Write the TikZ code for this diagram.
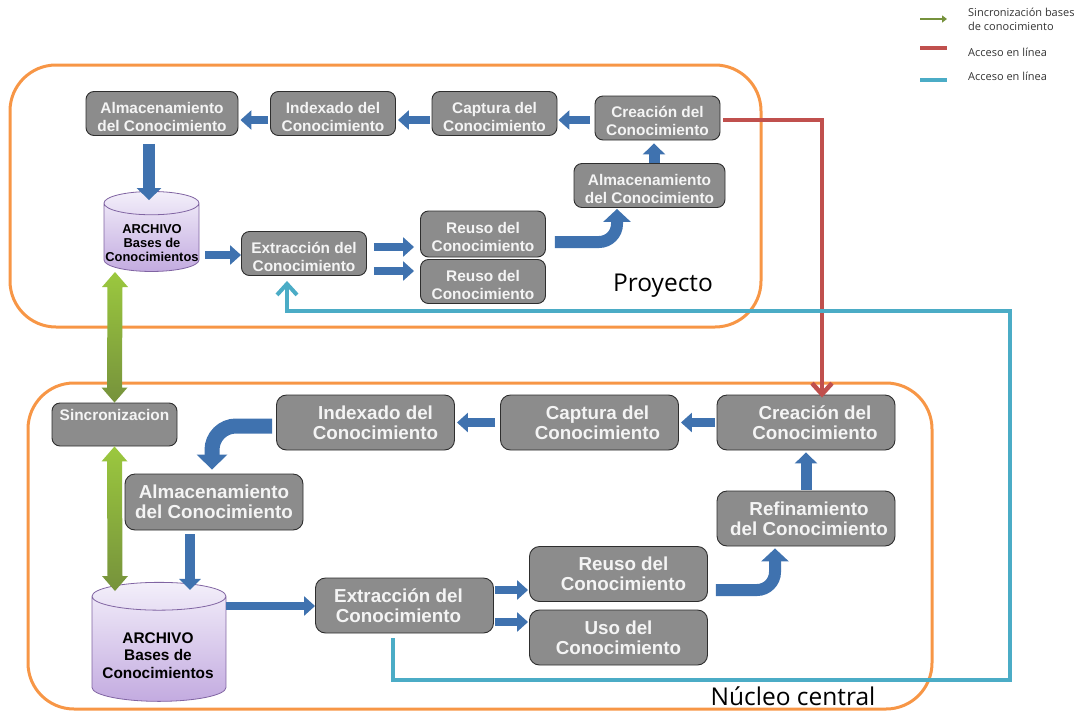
\documentclass[tikz,border=0pt]{standalone}
\usepackage{fontspec}
\setmainfont{Liberation Sans}
\newfontfamily\labelfont{Open Sans}
\usetikzlibrary{arrows.meta}
\usetikzlibrary{calc}
\usetikzlibrary{shapes.geometric}
\definecolor{boxgray}{HTML}{8C8C8C}
\definecolor{boxline}{HTML}{2E2E2E}
\definecolor{boxtext}{HTML}{F4F4F4}
\definecolor{panelorange}{HTML}{F79646}
\definecolor{flowblue}{HTML}{3F72AF}
\definecolor{linkred}{HTML}{C0504D}
\definecolor{linkcyan}{HTML}{4BACC6}
\definecolor{greenlight}{HTML}{9BC83E}
\definecolor{greendark}{HTML}{76923C}
\definecolor{dbtop}{HTML}{F3EFFA}
\definecolor{dbbottom}{HTML}{C3ABE0}
\definecolor{dbline}{HTML}{8064A2}
\tikzset{
    panel/.style={draw=panelorange,line width=3pt,rounded corners=46pt},
    smallbox/.style={draw=boxline,line width=.9pt,fill=boxgray,text=boxtext,rounded corners=8pt,
        align=center,inner sep=0pt,font=\fontsize{15.4}{18}\selectfont\bfseries,
        minimum width=125pt,minimum height=44pt},
    bigbox/.style={smallbox,rounded corners=10pt,font=\fontsize{18.8}{20}\selectfont\bfseries,
        minimum width=178pt,minimum height=55pt},
    database/.style={cylinder,shape border rotate=90,draw=dbline,line width=.8pt,
        top color=dbtop,bottom color=dbbottom,align=center,inner sep=0pt,aspect=.25},
    dblabel/.style={align=center,inner sep=0pt,text=black},
    flow/.style={draw=flowblue,line width=8.5pt,rounded corners=14pt,
        -{Triangle[length=11pt,width=19pt]}},
    bigflow/.style={flow,line width=12pt,rounded corners=18pt,-{Triangle[length=13pt,width=27pt]}},
    redlink/.style={draw=linkred,line width=4.5pt,-{Straight Barb[length=11pt,width=20pt]}},
    cyanlink/.style={draw=linkcyan,line width=4pt,-{Straight Barb[length=11pt,width=20pt]}},
    legendtext/.style={anchor=west,inner sep=0pt,font=\labelfont\fontsize{11}{14}\selectfont,
        align=left,text=black!80},
    paneltext/.style={inner sep=0pt,font=\labelfont\fontsize{24.5}{28}\selectfont},
}
\newcommand{\greenarrow}[2]{%
    \shade[top color=greenlight,bottom color=greendark]
        (#1) -- ([xshift=13pt,yshift=-15pt]#1) -- ([xshift=7.5pt,yshift=-15pt]#1)
        -- ([xshift=7.5pt,yshift=15pt]#2) -- ([xshift=13pt,yshift=15pt]#2) -- (#2)
        -- ([xshift=-13pt,yshift=15pt]#2) -- ([xshift=-7.5pt,yshift=15pt]#2)
        -- ([xshift=-7.5pt,yshift=-15pt]#1) -- ([xshift=-13pt,yshift=-15pt]#1) -- cycle;
}
\newcommand{\lowered}[1]{\rule{0pt}{#1}}
\newcommand{\pushed}[1]{\hspace*{#1}}
\newcommand{\dbspace}{\phantom{ARCHIVO}\\\phantom{Bases de}\\\phantom{Conocimientos}}
\begin{document}
\begin{tikzpicture}[x=1pt,y=-1pt]
    \useasboundingbox (0,0) rectangle (1082,710);
    \draw [panel] (10,65) rectangle (761,327);
    \draw [panel] (28,383) rectangle (932,709);
    \begin{scope}
        \node [smallbox,minimum width=152pt] (alm1) at (162,113.5) {\lowered{18pt}Almacenamiento\\del Conocimiento};
        \node [smallbox] (idx1) at (333,113.5) {\lowered{18pt}Indexado del\\Conocimiento};
        \node [smallbox] (cap1) at (494.5,113.5) {\lowered{18pt}Captura del\\Conocimiento};
        \node [smallbox] (cre1) at (657.5,118) {\lowered{18pt}Creación del\\Conocimiento};
        \node [smallbox,minimum width=151pt] (alm2) at (649.5,185.5) {\lowered{18pt}Almacenamiento\\del Conocimiento};
        \node [smallbox] (ext1) at (304,253.5) {\lowered{18pt}Extracción del\\Conocimiento};
        \node [smallbox,minimum height=46pt] (reu1a) at (483,234) {\lowered{18pt}Reuso del\\Conocimiento};
        \node [smallbox] (reu1b) at (483,281.5) {\lowered{18pt}Reuso del\\Conocimiento};
        \node [database,minimum width=95pt,minimum height=80pt,
            font=\fontsize{12.9}{14}\selectfont\bfseries] (db1) at (151.5,237.5) {\dbspace};
        \node [dblabel,font=\fontsize{12.9}{14}\selectfont\bfseries] (db1label) at (152,243) {ARCHIVO\\Bases de\\Conocimientos};
        \node [paneltext] (proyecto) at (663,286) {Proyecto};
        \draw [flow,shorten <=5pt,shorten >=1pt] (cre1.west |- 0,120) -- (cap1.east |- 0,120);
        \draw [flow,shorten <=2pt,shorten >=2pt] (cap1.west |- 0,120) -- (idx1.east |- 0,120);
        \draw [flow,shorten <=2pt,shorten >=2pt] (idx1.west |- 0,120) -- (alm1.east |- 0,120);
        \draw [flow,line width=12pt,-{Triangle[length=12pt,width=24pt]},shorten <=8pt,shorten >=-9pt] (alm1.south -| 149,0) -- (db1.north -| 149,0);
        \draw [flow,shorten <=6pt,shorten >=0pt] (db1.east |- 0,255) -- (ext1.west |- 0,255);
        \draw [flow,shorten <=7pt,shorten >=6pt] (ext1.east |- 0,247) -- (reu1a.west |- 0,247);
        \draw [flow,shorten <=7pt,shorten >=6pt] (ext1.east |- 0,271) -- (reu1b.west |- 0,271);
        \draw [bigflow,shorten <=9pt,shorten >=1pt] (reu1a.east |- 0,242) -- (617,242) -- (alm2.south -| 617,0);
        \draw [flow,line width=11pt,-{Triangle[length=11pt,width=22pt]},shorten <=0pt,shorten >=3pt] (alm2.north -| 654,0) -- (cre1.south -| 654,0);
    \end{scope}
    \begin{scope}
        \node [smallbox,minimum height=43pt,text depth=20pt] (sinc) at (114.5,424.5) {Sincronizacion};
        \node [bigbox] (idx2) at (365.5,422.5) {\pushed{20pt}Indexado del\\\pushed{20pt}Conocimiento};
        \node [bigbox] (cap2) at (589.5,422.5) {\pushed{16pt}Captura del\\\pushed{16pt}Conocimiento};
        \node [bigbox] (cre2) at (806,422.5) {\pushed{18pt}Creación del\\\pushed{18pt}Conocimiento};
        \node [bigbox] (ref) at (806,518.5) {\pushed{6pt}Refinamiento\\\pushed{6pt}del Conocimiento};
        \node [bigbox,minimum height=56pt] (alm3) at (214,502) {Almacenamiento\\del Conocimiento};
        \node [bigbox] (ext2) at (404.5,605.5) {Extracción del\pushed{12pt}\\Conocimiento\pushed{12pt}};
        \node [bigbox] (reu2) at (618.5,574) {\pushed{10pt}Reuso del\\\pushed{10pt}Conocimiento};
        \node [bigbox] (uso) at (618.5,637.5) {Uso del\\Conocimiento};
        \node [database,minimum width=134pt,minimum height=119pt,
            font=\fontsize{15.4}{17.5}\selectfont\bfseries] (db2) at (159,649) {\dbspace};
        \node [dblabel,font=\fontsize{15.4}{17.5}\selectfont\bfseries] (db2label) at (158,655.5) {ARCHIVO\\Bases de\\Conocimientos};
        \node [paneltext] (nucleo) at (793,696) {Núcleo central};
        \draw [flow,shorten <=2pt,shorten >=2pt] (cre2.west) -- (cap2.east);
        \draw [flow,shorten <=5pt,shorten >=2pt] (cap2.west) -- (idx2.east);
        \draw [bigflow,rounded corners=24pt,line width=15pt,-{Triangle[length=15pt,width=30pt]},shorten <=4pt,shorten >=4pt] (idx2.west |- 0,426) -- (212,426) -- (alm3.north -| 212,0);
        \draw [flow,line width=10pt,-{Triangle[length=11pt,width=21pt]},shorten <=4pt,shorten >=-8pt] (alm3.south -| 190,0) -- (db2.north -| 190,0);
        \draw [flow,shorten <=0pt,shorten >=0pt] (db2.east |- 0,606) -- (ext2.west |- 0,606);
        \draw [flow,shorten <=1pt,shorten >=1pt] (ext2.east |- 0,590) -- (reu2.west |- 0,590);
        \draw [flow,shorten <=1pt,shorten >=1pt] (ext2.east |- 0,622) -- (uso.west |- 0,622);
        \draw [bigflow,shorten <=8pt,shorten >=2pt] (reu2.east |- 0,590) -- (775,590) -- (ref.south -| 775,0);
        \draw [flow,line width=11pt,-{Triangle[length=11pt,width=22pt]},shorten <=1pt,shorten >=2pt] (ref.north) -- (cre2.south);
    \end{scope}
    \coordinate (db1top) at (115,272);
    \coordinate (db2top) at (115,591);
    \greenarrow{db1top}{sinc.north}
    \greenarrow{sinc.south}{db2top}
    \coordinate (redcorner) at (822,120);
    \coordinate (cyanstart) at (393,638);
    \coordinate (cyanlow) at (393,680);
    \coordinate (cyanright) at (1010,680);
    \coordinate (cyanup) at (1010,311);
    \coordinate (cyanleft) at (287,311);
    \draw [redlink,shorten <=3pt,shorten >=-3pt] (cre1.east |- redcorner) -- (redcorner) -- (redcorner |- cre2.north);
    \draw [cyanlink,shorten >=5pt] (cyanstart) -- (cyanlow) -- (cyanright) -- (cyanup) -- (cyanleft) -- (cyanleft |- ext1.south);
    \coordinate (keygreena) at (920,19);
    \coordinate (keygreenb) at (947,19);
    \coordinate (keyreda) at (920,48);
    \coordinate (keyredb) at (947,48);
    \coordinate (keycyana) at (920,80);
    \coordinate (keycyanb) at (947,80);
    \draw [draw=greendark,line width=2.5pt,-{Triangle[length=5pt,width=7pt]}] (keygreena) -- (keygreenb);
    \draw [draw=linkred,line width=4pt] (keyreda) -- (keyredb);
    \draw [draw=linkcyan,line width=4pt] (keycyana) -- (keycyanb);
    \node [legendtext] (keysync) at (968,19) {Sincronización bases\\de conocimiento};
    \node [legendtext] (keyonline) at (968,52) {Acceso en línea};
    \node [legendtext] (keyonlineb) at (968,76) {Acceso en línea};
\end{tikzpicture}
\end{document}
